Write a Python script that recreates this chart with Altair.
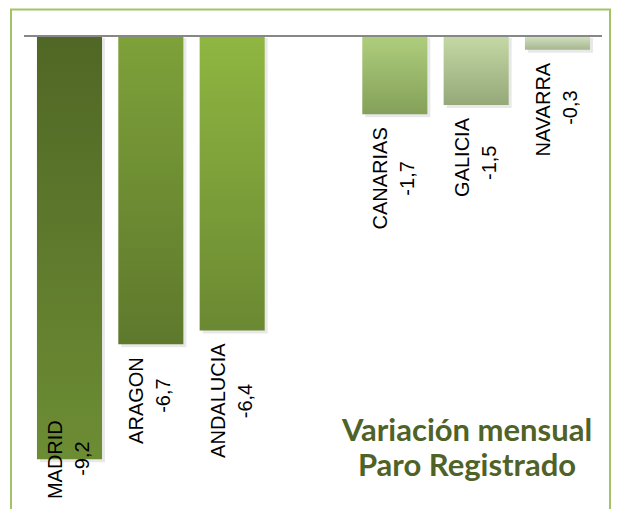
import altair as alt
import pandas as pd

# ---- data ----
slots = ["MADRID", "ARAGON", "ANDALUCIA", " ", "CANARIAS", "GALICIA", "NAVARRA"]
regions = ["MADRID", "ARAGON", "ANDALUCIA", "CANARIAS", "GALICIA", "NAVARRA"]
values = [-9.2, -6.7, -6.4, -1.7, -1.5, -0.3]
title_lines = ["Variación mensual", "Paro Registrado"]

# ---- styles ----
top_colors = ["#506725", "#7EA13A", "#8FB641", "#AFCE7C", "#C4D9A5", "#D4E3C0"]
bottom_colors = ["#6D8D34", "#5E792C", "#6B8932", "#84A05A", "#94A879", "#A6B690"]
border_color = "#A3C366"
title_color = "#4F6228"

W, H = 603, 501          # svg size (padding 0)
PX = 46.0                # pixels per unit
ZERO_Y = 28              # pixel row of value 0 inside the plot
ymax = ZERO_Y / PX
ymin = ymax - H / PX
LABEL_FLOOR = -(489 - ZERO_Y) / PX
CHAR_W = 12.8
GAP = 13

df = pd.DataFrame({"region": regions, "value": values})
tdf = pd.DataFrame({"line": title_lines, "row": [0, 1]})

xscale = alt.Scale(domain=slots, paddingInner=0.2, paddingOuter=0.307, align=0.58)
yscale = alt.Scale(domain=[ymin, ymax], nice=False, zero=False)
X = alt.X("region:N", scale=xscale, axis=None)
Y = alt.Y("value:Q", scale=yscale, axis=None)

base = alt.Chart(df)

shadow = base.mark_bar(color="#000000", opacity=0.09, xOffset=3, yOffset=3, y2Offset=2).encode(
    x=X, y=Y, y2=alt.datum(0)
)

bars = []
for r, c1, c2 in zip(regions, top_colors, bottom_colors):
    grad = alt.LinearGradient(
        gradient="linear", x1=0, y1=0, x2=0, y2=1,
        stops=[alt.GradientStop(color=c1, offset=0), alt.GradientStop(color=c2, offset=1)],
    )
    bars.append(
        base.transform_filter(alt.datum.region == r)
        .mark_bar(color=grad)
        .encode(x=X, y=Y, y2=alt.datum(0))
    )

axis_line = base.transform_aggregate(n="count()").transform_calculate(zero="0").mark_rule(
    color="#878787", strokeWidth=2
).encode(
    x=alt.value(16), x2=alt.value(594), y=alt.Y("zero:Q", scale=yscale, axis=None)
)

labels_base = base.transform_calculate(
    namelen=f"length(datum.region) * {CHAR_W}",
).transform_calculate(
    name_top=f"max(datum.value - {GAP}/{PX}, {LABEL_FLOOR} + datum.namelen/{PX})",
).transform_calculate(
    val_center=f"datum.name_top - datum.namelen/2/{PX}",
    vlabel="(datum.value < 0 ? '-' : '') + replace(format(abs(datum.value), '.1f'), '.', ',')",
)

name_text = labels_base.mark_text(
    angle=270, align="right", baseline="middle", dy=-13.5,
    font="Liberation Sans", fontSize=20, color="#000000",
).encode(x=X, y=alt.Y("name_top:Q", scale=yscale, axis=None), text="region:N")

val_text = labels_base.mark_text(
    angle=270, align="center", baseline="middle", dy=13.5,
    font="Liberation Sans", fontSize=20, color="#000000",
).encode(x=X, y=alt.Y("val_center:Q", scale=yscale, axis=None), text="vlabel:N")

titles = []
for i in range(len(title_lines)):
    titles.append(
        alt.Chart(tdf).transform_filter(alt.datum.row == i).mark_text(
            align="center", baseline="alphabetic", font="Lato", fontWeight="bold",
            fontSize=31, color=title_color,
        ).encode(x=alt.value(459), y=alt.value(433 + 35 * i), text="line:N")
    )

border = alt.Chart(tdf).transform_aggregate(n="count()").mark_rect(
    fillOpacity=0, fill="#ffffff", stroke=border_color, strokeWidth=2,
).encode(
    x=alt.value(3), x2=alt.value(W - 1), y=alt.value(1.5), y2=alt.value(H + 20),
    detail="n:Q",
)

chart = alt.layer(border, shadow, *bars, axis_line, name_text, val_text, *titles).properties(
    width=W, height=H, padding=0, autosize=alt.AutoSizeParams(type="none"),
    background="white",
).configure_view(stroke=None)

chart.save("out.html", embed_options={"renderer": "svg", "actions": False})
